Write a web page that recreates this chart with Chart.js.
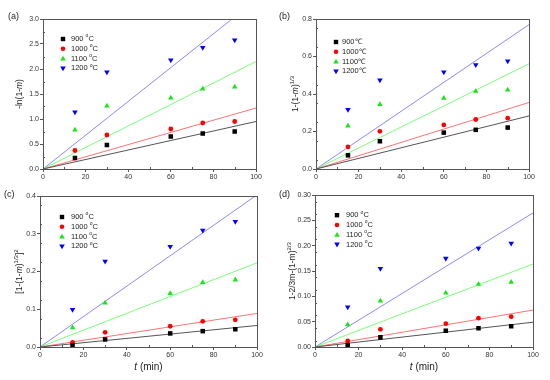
<!DOCTYPE html>
<html>
<head>
<meta charset="utf-8">
<script src="https://cdn.jsdelivr.net/npm/chart.js@4/dist/chart.umd.min.js"></script>
<style>
    body { margin: 0; background: #fff; }
    #wrap { position: relative; width: 550px; height: 380px; }
    .panel { position: absolute; width: 275px; height: 190px; }
</style>
</head>
<body>
<div id="wrap">
    <div class="panel" style="left:0;top:0"><canvas id="chartA"></canvas></div>
    <div class="panel" style="left:275px;top:0"><canvas id="chartB"></canvas></div>
    <div class="panel" style="left:0;top:190px"><canvas id="chartC"></canvas></div>
    <div class="panel" style="left:275px;top:190px"><canvas id="chartD"></canvas></div>
</div>
<script>
// reaction time (min)
const times = [15, 30, 60, 75, 90];
const fitTimes = [0, 100];
const temps = ['900', '1000', '1100', '1200'];

// (a) -ln(1-m)
const a900 = [0.22, 0.48, 0.65, 0.71, 0.75];
const a1000 = [0.37, 0.68, 0.80, 0.92, 0.95];
const a1100 = [0.78, 1.26, 1.42, 1.60, 1.64];
const a1200 = [1.14, 1.94, 2.18, 2.43, 2.58];
const aFitEnd = [0.95, 1.22, 2.15, 3.38];

// (b) 1-(1-m)^(1/3)
const b900 = [0.073, 0.148, 0.194, 0.209, 0.221];
const b1000 = [0.118, 0.201, 0.235, 0.264, 0.271];
const b1100 = [0.230, 0.344, 0.378, 0.415, 0.422];
const b1200 = [0.317, 0.474, 0.517, 0.556, 0.576];
const bFitEnd = [0.283, 0.355, 0.561, 0.770];

// (c) [1-(1-m)^(1/3)]^2
const c900 = [0.004, 0.020, 0.036, 0.042, 0.047];
const c1000 = [0.012, 0.039, 0.055, 0.068, 0.072];
const c1100 = [0.051, 0.117, 0.142, 0.171, 0.178];
const c1200 = [0.099, 0.227, 0.266, 0.309, 0.332];
const cFitEnd = [0.057, 0.089, 0.223, 0.403];

// (d) 1-2/3m-(1-m)^(2/3)
const d900 = [0.004, 0.019, 0.032, 0.037, 0.041];
const d1000 = [0.012, 0.035, 0.046, 0.057, 0.060];
const d1100 = [0.044, 0.091, 0.107, 0.124, 0.128];
const d1200 = [0.079, 0.155, 0.175, 0.195, 0.205];
const dFitEnd = [0.049, 0.073, 0.164, 0.265];

const markerColors = ['#000000', '#ff0000', '#19e619', '#0000ff'];
const lineColors = ['#555555', '#ff7373', '#7aff7a', '#8a8aff'];
const markerStyles = ['rect', 'circle', 'triangle', 'triangle'];
const markerRot = [0, 0, 0, 180];
const markerSize = [3.2, 2.4, 3.2, 3.2];

const FONT = '"Liberation Sans", Arial, sans-serif';

function drawRich(ctx, x, y, segs, size, align) {
    // segs: [text, flags] flags: i = italic, s = superscript
    const parts = segs.map(s => {
        const sup = s[1].includes('s');
        const it = s[1].includes('i');
        const sz = sup ? Math.round(size * 0.7) : size;
        return { text: s[0], font: (it ? 'italic ' : '') + sz + 'px ' + FONT, sup: sup };
    });
    let total = 0;
    parts.forEach(p => { ctx.font = p.font; p.w = ctx.measureText(p.text).width; total += p.w; });
    let cx = align === 'center' ? x - total / 2 : x;
    ctx.textAlign = 'left';
    ctx.textBaseline = 'middle';
    parts.forEach(p => {
        ctx.font = p.font;
        ctx.fillText(p.text, cx, p.sup ? y - size * 0.4 : y);
        cx += p.w;
    });
}

function drawMarker(ctx, style, rot, x, y, color) {
    ctx.fillStyle = color;
    ctx.beginPath();
    if (style === 'rect') {
        ctx.rect(x - 2.2, y - 2.2, 4.4, 4.4);
    } else if (style === 'circle') {
        ctx.arc(x, y, 2.3, 0, Math.PI * 2);
    } else {
        const s = rot ? -1 : 1;
        ctx.moveTo(x, y - 2.8 * s);
        ctx.lineTo(x + 2.8, y + 2 * s);
        ctx.lineTo(x - 2.8, y + 2 * s);
        ctx.closePath();
    }
    ctx.fill();
}

const panelPlugin = {
    id: 'panelDeco',
    afterDraw(chart) {
        const ctx = chart.ctx;
        const ca = chart.chartArea;
        const o = chart.options.plugins.panelDeco;
        const xs = chart.scales.x, ys = chart.scales.y;
        ctx.save();
        // frame
        ctx.strokeStyle = '#555';
        ctx.lineWidth = 1;
        ctx.strokeRect(Math.round(ca.left) + 0.5, Math.round(ca.top) + 0.5,
            Math.round(ca.right - ca.left), Math.round(ca.bottom - ca.top));
        // minor ticks
        ctx.beginPath();
        for (let v = 10; v < 100; v += 20) {
            const px = Math.round(xs.getPixelForValue(v)) + 0.5;
            ctx.moveTo(px, ca.bottom);
            ctx.lineTo(px, ca.bottom - 2);
        }
        const st = o.step;
        for (let v = st / 2; v < ys.max; v += st) {
            const py = Math.round(ys.getPixelForValue(v)) + 0.5;
            ctx.moveTo(ca.left, py);
            ctx.lineTo(ca.left + 2, py);
        }
        ctx.stroke();
        // panel letter
        ctx.fillStyle = '#222';
        ctx.font = '9px ' + FONT;
        ctx.textAlign = 'left';
        ctx.textBaseline = 'middle';
        ctx.fillText(o.letter, o.letterX, o.letterY);
        // y title
        ctx.fillStyle = '#222';
        ctx.save();
        ctx.translate(o.titleX, (ca.top + ca.bottom) / 2);
        ctx.rotate(-Math.PI / 2);
        drawRich(ctx, 0, 0, o.yTitle, 8.5, 'center');
        ctx.restore();
        // x title
        if (o.xTitle) {
            drawRich(ctx, (ca.left + ca.right) / 2, ca.bottom + 20, [['t', 'i'], [' (min)', '']], 10, 'center');
        }
        // legend
        temps.forEach((t, i) => {
            const ly = ca.top + o.legTop + i * 9.8;
            drawMarker(ctx, markerStyles[i], markerRot[i], ca.left + o.legMark, ly, markerColors[i]);
            ctx.fillStyle = '#222';
            const segs = o.celsius ? [[t + '℃', '']] : [[t + ' ', ''], ['o', 's'], ['C', '']];
            drawRich(ctx, ca.left + o.legText, ly, segs, 7.5, 'left');
        });
        ctx.restore();
    }
};

function makePanel(id, series, fitEnd, yMax, yStep, digits, box, deco) {
    const datasets = [];
    series.forEach((vals, i) => {
        datasets.push({
            label: temps[i],
            data: fitTimes.map((t, k) => ({ x: t, y: k === 0 ? 0 : fitEnd[i] })),
            showLine: true,
            borderColor: lineColors[i],
            borderWidth: 1,
            pointRadius: 0,
            order: 2
        });
    });
    series.forEach((vals, i) => {
        datasets.push({
            label: temps[i],
            data: times.map((t, k) => ({ x: t, y: vals[k] })),
            backgroundColor: markerColors[i],
            borderColor: markerColors[i],
            borderWidth: 0,
            pointStyle: markerStyles[i],
            pointRotation: markerRot[i],
            pointRadius: markerSize[i],
            order: 1
        });
    });
    const tickFont = { family: FONT, size: 7 };
    new Chart(document.getElementById(id), {
        type: 'scatter',
        data: { datasets: datasets },
        options: {
            responsive: true,
            maintainAspectRatio: false,
            animation: false,
            layout: { padding: { left: 0, top: box.top, right: 275 - box.right, bottom: 0 } },
            plugins: {
                legend: { display: false },
                tooltip: { enabled: false },
                panelDeco: deco
            },
            scales: {
                x: {
                    type: 'linear',
                    min: 0,
                    max: 100,
                    afterFit: function(scale) { scale.height = 190 - box.bottom; },
                    ticks: { stepSize: 20, font: tickFont, color: '#333', padding: 1, maxRotation: 0 },
                    grid: { drawOnChartArea: false, tickLength: 3, color: '#555' },
                    border: { color: '#555' }
                },
                y: {
                    type: 'linear',
                    min: 0,
                    max: yMax,
                    afterFit: function(scale) { scale.width = box.left; },
                    ticks: {
                        stepSize: yStep,
                        font: tickFont,
                        color: '#333',
                        padding: 1,
                        callback: function(value) { return value.toFixed(digits); }
                    },
                    grid: { drawOnChartArea: false, tickLength: 3, color: '#555' },
                    border: { color: '#555' }
                }
            }
        },
        plugins: [panelPlugin]
    });
}

makePanel('chartA', [a900, a1000, a1100, a1200], aFitEnd, 3.0, 0.5, 1,
    { left: 43, top: 19, right: 256, bottom: 169 },
    { letter: '(a)', letterX: 8, letterY: 17, titleX: 20, step: 0.5, legTop: 20, legMark: 20, legText: 28,
      yTitle: [['-ln(1-', ''], ['m', 'i'], [')', '']] });

makePanel('chartB', [b900, b1000, b1100, b1200], bFitEnd, 0.8, 0.2, 1,
    { left: 41, top: 19, right: 254, bottom: 169 },
    { letter: '(b)', letterX: 4, letterY: 17, titleX: 21, step: 0.1, legTop: 23, legMark: 20, legText: 26, celsius: true,
      yTitle: [['1-(1-', ''], ['m', 'i'], [')', ''], ['1/3', 's']] });

makePanel('chartC', [c900, c1000, c1100, c1200], cFitEnd, 0.4, 0.1, 1,
    { left: 40, top: 6, right: 257, bottom: 157 },
    { letter: '(c)', letterX: 4, letterY: 5, titleX: 20, step: 0.05, legTop: 21, legMark: 22, legText: 31, xTitle: true,
      yTitle: [['[1-(1-', ''], ['m', 'i'], [')', ''], ['1/3', 's'], [']', ''], ['2', 's']] });

makePanel('chartD', [d900, d1000, d1100, d1200], dFitEnd, 0.30, 0.05, 2,
    { left: 40, top: 4, right: 258, bottom: 157 },
    { letter: '(d)', letterX: 4, letterY: 5, titleX: 18, step: 0.025, legTop: 20, legMark: 22, legText: 31, xTitle: true,
      yTitle: [['1-2/3m-(1-m)', ''], ['2/3', 's']] });
</script>
</body>
</html>
